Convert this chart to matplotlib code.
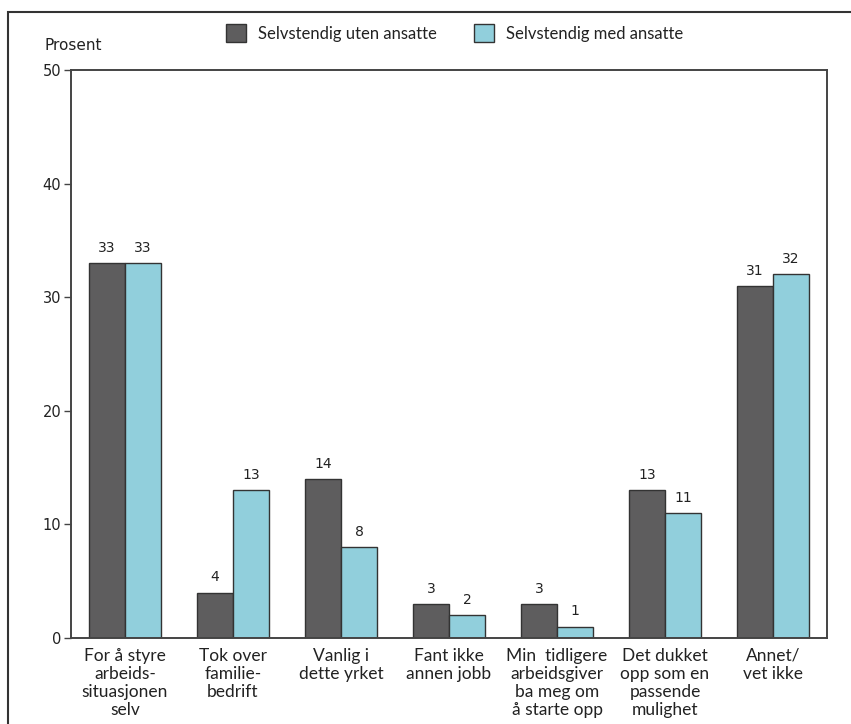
import matplotlib
matplotlib.use("Agg")
import matplotlib.pyplot as plt
from matplotlib.patches import Rectangle
import numpy as np

categories = [
    "For å styre\narbeids-\nsituasjonen\nselv",
    "Tok over\nfamilie-\nbedrift",
    "Vanlig i\ndette yrket",
    "Fant ikke\nannen jobb",
    "Min  tidligere\narbeidsgiver\nba meg om\nå starte opp",
    "Det dukket\nopp som en\npassende\nmulighet",
    "Annet/\nvet ikke",
]
series_names = ["Selvstendig uten ansatte", "Selvstendig med ansatte"]
uten_ansatte = [33, 4, 14, 3, 3, 13, 31]
med_ansatte = [33, 13, 8, 2, 1, 11, 32]
yticks = [0, 10, 20, 30, 40, 50]

dark = "#5e5d5e"
light = "#91cfdc"
edge = "#333333"
txt = "#222222"
label_font = ["Lato", "DejaVu Sans"]

fig = plt.figure(figsize=(8.51, 7.24), dpi=100)
ax = fig.add_axes([71 / 851, 86 / 724, (827 - 71) / 851, (638 - 70) / 724])

x = np.arange(len(categories))
w = 0.333
ax.bar(x - w / 2, uten_ansatte, w, color=dark, edgecolor=edge, linewidth=1.0,
       label=series_names[0], zorder=2)
ax.bar(x + w / 2, med_ansatte, w, color=light, edgecolor=edge, linewidth=1.0,
       label=series_names[1], zorder=2)

for offs, vals in ((-w / 2, uten_ansatte), (w / 2, med_ansatte)):
    for xi, v in zip(x + offs, vals):
        ax.annotate(str(v), (xi, v), xytext=(0, 6), textcoords="offset points",
                    ha="center", va="bottom", fontsize=10, color=txt,
                    family="DejaVu Sans")

ax.set_xlim(-0.5, 6.5)
ax.set_ylim(0, 50)
ax.set_yticks(yticks)
ax.set_yticklabels([str(t) for t in yticks], fontsize=10.5, color=txt,
                   family="DejaVu Sans")
ax.set_xticks(x)
ax.set_xticklabels(categories, fontsize=12.5, color=txt, family=label_font,
                   linespacing=1.15)
ax.tick_params(axis="x", length=0, pad=7)
ax.tick_params(axis="y", length=5, width=1.0, color="#444444", pad=2)
for s in ax.spines.values():
    s.set_color("#444444")
    s.set_linewidth(1.4)

fig.text(44 / 851, 1 - 45 / 724, "Prosent", fontsize=11, color=txt,
         family="DejaVu Sans", va="center", ha="left")

leg = fig.legend(loc="center", bbox_to_anchor=(0.534, 1 - 33 / 724), ncol=2,
                 frameon=False, prop={"family": label_font, "size": 12},
                 handlelength=1.25, handleheight=1.25, handletextpad=0.7,
                 columnspacing=2.2)
for t in leg.get_texts():
    t.set_color(txt)

# outer panel border
fig.patches.append(Rectangle((8 / 851, -0.1), 1.2, 1 - 12 / 724 + 0.1,
                             transform=fig.transFigure, fill=False,
                             edgecolor="#333333", linewidth=1.5))

fig.savefig("out.png", dpi=100)
